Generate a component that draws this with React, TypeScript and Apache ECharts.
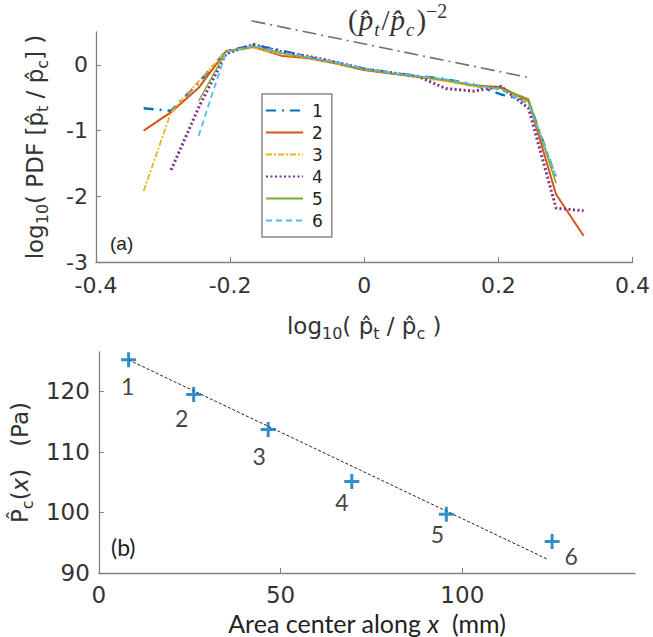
import React, { useEffect, useRef } from 'react';
import * as echarts from 'echarts';

// ---------- data: panel (a) ----------
const binX = [-0.329, -0.288, -0.247, -0.206, -0.165, -0.124, -0.083, -0.042, -0.001, 0.040, 0.081, 0.122, 0.163, 0.204, 0.245, 0.286, 0.327];
const pdf1 = [-0.66, -0.70, -0.27, 0.21, 0.30, 0.22, 0.12, 0.03, -0.06, -0.12, -0.17, -0.22, -0.30, -0.45, -0.55, -1.72, null];
const pdf2 = [-1.00, -0.72, -0.35, 0.21, 0.27, 0.14, 0.10, 0.02, -0.08, -0.13, -0.18, -0.24, -0.31, -0.34, -0.55, -1.97, -2.60];
const pdf3 = [-1.92, -0.72, -0.25, 0.20, 0.26, 0.16, 0.11, 0.02, -0.07, -0.13, -0.19, -0.25, -0.33, -0.36, -0.57, -1.70, null];
const pdf4 = [null, -1.60, -0.65, 0.17, 0.31, 0.20, 0.13, 0.04, -0.06, -0.12, -0.18, -0.36, -0.40, -0.33, -0.66, -2.18, -2.22];
const pdf5 = [null, null, -0.55, 0.20, 0.28, 0.18, 0.11, 0.03, -0.07, -0.13, -0.18, -0.23, -0.31, -0.36, -0.52, -1.80, null];
const pdf6 = [null, null, -1.08, 0.20, 0.29, 0.19, 0.12, 0.04, -0.05, -0.12, -0.17, -0.22, -0.30, -0.38, -0.60, -1.70, null];
const seriesNames = ['1', '2', '3', '4', '5', '6'];
const refX = [-0.168, 0.248];
const refY = [0.67, -0.2];
const topXTicks = [-0.4, -0.2, 0, 0.2, 0.4];
const topYTicks = [-3, -2, -1, 0];

// ---------- data: panel (b) ----------
const areaX = [8.2, 26.1, 46.6, 69.6, 95.6, 124.7];
const pcY = [125.2, 119.5, 113.7, 105.1, 99.7, 95.2];
const pointLabels = ['1', '2', '3', '4', '5', '6'];
const fitX = [8.2, 123.7];
const fitY = [125.2, 92.2];
const botXTicks = [0, 50, 100];
const botYTicks = [90, 100, 110, 120];

// ---------- styles ----------
const SANS = "'Liberation Sans', Arial, sans-serif";
const WIDE = "'DejaVu Sans', 'Liberation Sans', sans-serif";
const CAL = "Lato, 'Open Sans', sans-serif";
const SERIF = "'Liberation Serif', 'DejaVu Serif', serif";
const AX = '#808080';
const TXT = '#333333';
const labelOffsets = [[-1, 26], [-12, 24], [-9, 26], [-10, 20], [-9, 20], [19, 14]];
const lineStyles = [
  { color: '#0072BD', width: 2.5, type: [10, 6, 2, 6] },
  { color: '#D95319', width: 2, type: 'solid' },
  { color: '#EDB120', width: 1.8, type: [6, 2, 2, 2] },
  { color: '#7E2F8E', width: 3, type: [2, 2.5] },
  { color: '#77AC30', width: 1.5, type: 'solid' },
  { color: '#4DBEEE', width: 1.8, type: [6, 4] },
];
const pdfs = [pdf1, pdf2, pdf3, pdf4, pdf5, pdf6];

const fmt1 = (v: number) => String(Math.round(v * 10) / 10);

const subRich = (fs: number, ff: string) => ({
  a: { fontSize: fs, fontFamily: ff, color: TXT, lineHeight: fs + 8 },
  s: { fontSize: Math.round(fs * 0.68), fontFamily: ff, color: TXT, lineHeight: Math.round(fs * 0.68), verticalAlign: 'bottom' },
  i: { fontSize: fs, fontFamily: ff, fontStyle: 'italic', color: TXT, lineHeight: fs + 8 },
});

export default function App() {
  const ref = useRef<HTMLDivElement>(null);
  useEffect(() => {
    if (!ref.current) return;
    const chart = echarts.init(ref.current, undefined, { renderer: 'svg' });
    const pdfSeries = pdfs.map((arr, i) => ({
      name: seriesNames[i],
      type: 'line',
      xAxisIndex: 0,
      yAxisIndex: 0,
      symbol: 'none',
      showSymbol: false,
      data: binX.map((x, k) => [x, arr[k]]).filter((p) => p[1] !== null),
      lineStyle: lineStyles[i],
      itemStyle: { color: lineStyles[i].color },
    }));
    const option: any = {
      animation: false,
      backgroundColor: '#ffffff',
      grid: [
        { left: 96, top: 32, width: 541, height: 230, containLabel: false },
        { left: 95, top: 352, width: 540, height: 221, containLabel: false },
      ],
      legend: {
        orient: 'vertical',
        left: 262,
        top: 94,
        data: seriesNames,
        itemWidth: 37,
        itemHeight: 18,
        itemGap: 5,
        padding: [8, 9, 8, 3],
        borderColor: '#888',
        borderWidth: 1.5,
        backgroundColor: '#fff',
        itemStyle: { opacity: 0 },
        textStyle: { fontSize: 17, fontFamily: WIDE, color: '#222', padding: [0, 0, 0, 4] },
      },
      xAxis: [
        {
          gridIndex: 0, type: 'value', min: -0.4, max: 0.4, interval: 0.2,
          axisLine: { onZero: false, lineStyle: { color: AX, width: 1.3 } },
          axisTick: { inside: true, length: 5, lineStyle: { color: AX }, customValues: topXTicks },
          axisLabel: { color: TXT, fontSize: 22, fontFamily: WIDE, margin: 12, formatter: fmt1, customValues: topXTicks },
          splitLine: { show: false },
          name: '{a|log}{s|10}{a|( p\u0302}{s|t}{a| / p\u0302}{s|c}{a| )}',
          nameLocation: 'middle', nameGap: 48,
          nameTextStyle: { rich: subRich(23, WIDE) },
        },
        {
          gridIndex: 1, type: 'value', min: 0, max: 147.5,
          axisLine: { onZero: false, lineStyle: { color: AX, width: 1.3 } },
          axisTick: { inside: true, length: 5, lineStyle: { color: AX }, customValues: botXTicks },
          axisLabel: { color: TXT, fontSize: 23, fontFamily: WIDE, margin: 10, customValues: botXTicks },
          splitLine: { show: false },
          name: '{a|Area center along }{i|x}{a|  (mm)}',
          nameLocation: 'middle', nameGap: 37,
          nameTextStyle: { rich: { a: { fontSize: 25, fontFamily: CAL, color: '#222' }, i: { fontSize: 25, fontFamily: CAL, fontStyle: 'italic', color: '#222' } } },
        },
      ],
      yAxis: [
        {
          gridIndex: 0, type: 'value', min: -3, max: 0.5,
          axisLine: { onZero: false, lineStyle: { color: AX, width: 1.3 } },
          axisTick: { inside: true, length: 5, lineStyle: { color: AX }, customValues: topYTicks },
          axisLabel: { color: TXT, fontSize: 22, fontFamily: WIDE, margin: 8, customValues: topYTicks },
          splitLine: { show: false },
          name: '{a|log}{s|10}{a|( PDF [p\u0302}{s|t}{a| / p\u0302}{s|c}{a|] )}',
          nameLocation: 'middle', nameGap: 46, nameRotate: 90,
          nameTextStyle: { rich: subRich(23, WIDE) },
        },
        {
          gridIndex: 1, type: 'value', min: 90, max: 126.5,
          axisLine: { onZero: false, lineStyle: { color: AX, width: 1.3 } },
          axisTick: { inside: true, length: 5, lineStyle: { color: AX }, customValues: botYTicks },
          axisLabel: { color: TXT, fontSize: 23, fontFamily: WIDE, margin: 9, customValues: botYTicks },
          splitLine: { show: false },
          name: '{a|P\u0302}{s|c}{a|(}{i|x}{a|)   (Pa)}',
          nameLocation: 'middle', nameGap: 56, nameRotate: 90,
          nameTextStyle: { rich: subRich(23, WIDE) },
        },
      ],
      series: [
        ...pdfSeries,
        {
          name: 'ref', type: 'line', xAxisIndex: 0, yAxisIndex: 0, symbol: 'none', clip: false, silent: true,
          data: refX.map((x, k) => [x, refY[k]]),
          lineStyle: { color: '#707070', width: 1.6, type: [14, 5, 2, 5] },
        },
        {
          name: 'fit', type: 'line', xAxisIndex: 1, yAxisIndex: 1, symbol: 'none', silent: true,
          data: fitX.map((x, k) => [x, fitY[k]]),
          lineStyle: { color: '#222', width: 1, type: [3, 2] },
        },
        {
          name: 'pc', type: 'scatter', xAxisIndex: 1, yAxisIndex: 1,
          symbol: 'path://M4,0H6V4H10V6H6V10H4V6H0V4H4Z', symbolSize: 15,
          itemStyle: { color: '#0072BD' },
          data: areaX.map((x, k) => ({ value: [x, pcY[k]], label: { offset: labelOffsets[k] } })),
          label: {
            show: true, position: 'inside',
            formatter: (p: any) => pointLabels[p.dataIndex],
            fontSize: 23, fontFamily: CAL, color: '#111',
          },
          z: 5,
        },
      ],
      graphic: [
        {
          type: 'text', left: 348, top: 1,
          style: {
            text: '{m|(}{i|p\u0302}{b|t}{m|/}{i|p\u0302}{b|c}{m|)}{p|\u22122}',
            rich: {
              m: { fontSize: 29, fontFamily: SERIF, fill: '#333', lineHeight: 38 },
              i: { fontSize: 29, fontFamily: SERIF, fontStyle: 'italic', fill: '#333', lineHeight: 38, padding: [0, 1, 0, 1] },
              b: { fontSize: 19, fontFamily: SERIF, fontStyle: 'italic', fill: '#333', lineHeight: 19, verticalAlign: 'bottom', padding: [0, 2, 0, 0] },
              p: { fontSize: 20, fontFamily: SERIF, fill: '#333', lineHeight: 20, verticalAlign: 'top' },
            },
          },
        },
        { type: 'text', left: 110, top: 234, style: { text: '(a)', fontSize: 19, fontFamily: SANS, fill: '#222' } },
        { type: 'text', left: 111, top: 535, style: { text: '(b)', fontSize: 23, fontFamily: CAL, fill: '#222' } },
      ],
    };
    chart.setOption(option);
    return () => chart.dispose();
  }, []);
  return (
    <div
      ref={ref}
      style={{ position: 'absolute', left: 0, top: 0, width: 653, height: 637, background: '#fff' }}
    />
  );
}
